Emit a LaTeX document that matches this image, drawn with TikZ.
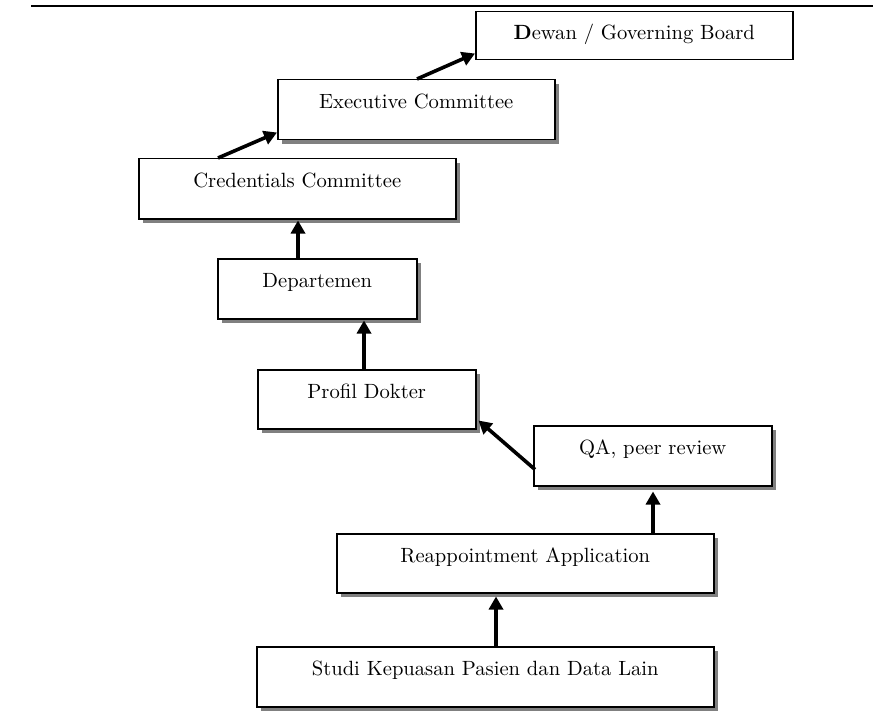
\documentclass[tikz,border=0pt]{standalone}
\usetikzlibrary{arrows.meta,calc,shadows}
\tikzset{
  x=0.5pt, y=0.5pt,
  box/.style={draw=black, line width=0.75pt, fill=white, anchor=north west,
    inner sep=0pt, font=\fontsize{10.3}{12}\selectfont,
    text height=7.5pt, text depth=8.5pt},
  shbox/.style={box, drop shadow={shadow xshift=2.2pt, shadow yshift=-2.2pt, fill=black!50, opacity=1}},
  conn/.style={line width=1.8pt, -{Triangle[length=6.5pt,width=7pt]}},
}
\begin{document}
\begin{tikzpicture}
\useasboundingbox (0,0) rectangle (873,-722);
\draw[line width=1.3pt] (31,-6) coordinate (l1) -- (873,-6) coordinate (l2);

\node[box, text depth=3.5pt, minimum width=158.5pt, minimum height=24pt] (dewan) at (475,-11) {\textbf{D}ewan / Governing Board};
\node[shbox, minimum width=138.5pt, minimum height=30pt] (exec) at (277,-79) {Executive Committee};
\node[shbox, minimum width=158.5pt, minimum height=30pt] (cred) at (138,-158) {Credentials Committee};
\node[shbox, minimum width=99.5pt, minimum height=30pt] (dept) at (217,-258) {Departemen};
\node[shbox, minimum width=109pt, minimum height=29.5pt] (prof) at (257,-369) {Profil Dokter};
\node[shbox, minimum width=119pt, minimum height=30pt] (qa) at (533,-425) {QA, peer review};
\node[shbox, minimum width=188.5pt, minimum height=29.5pt] (reap) at (336,-533) {Reappointment Application};
\node[shbox, minimum width=228.5pt, minimum height=30pt] (studi) at (256,-646) {Studi Kepuasan Pasien dan Data Lain};

\draw[conn] ($(cred.north west)+(80,0)$) -- ($(exec.south west)+(0,8)$);
\draw[conn] ($(exec.north west)+(140,0)$) -- ($(dewan.south west)+(0,7)$);
\draw[conn] ($(dept.north west)+(81,0)$) -- ($(cred.south west)+(160,-1)$);
\draw[conn] ($(prof.north west)+(107,0)$) -- ($(dept.south west)+(147,-1)$);
\draw[conn] ($(qa.south west)+(2,17)$) -- ($(prof.south east)+(2,9)$);
\draw[conn] ($(reap.north west)+(317,0)$) -- ($(qa.south west)+(120,-5)$);
\draw[conn] ($(studi.north west)+(240,0)$) -- ($(reap.south west)+(160,-3)$);
\end{tikzpicture}
\end{document}
